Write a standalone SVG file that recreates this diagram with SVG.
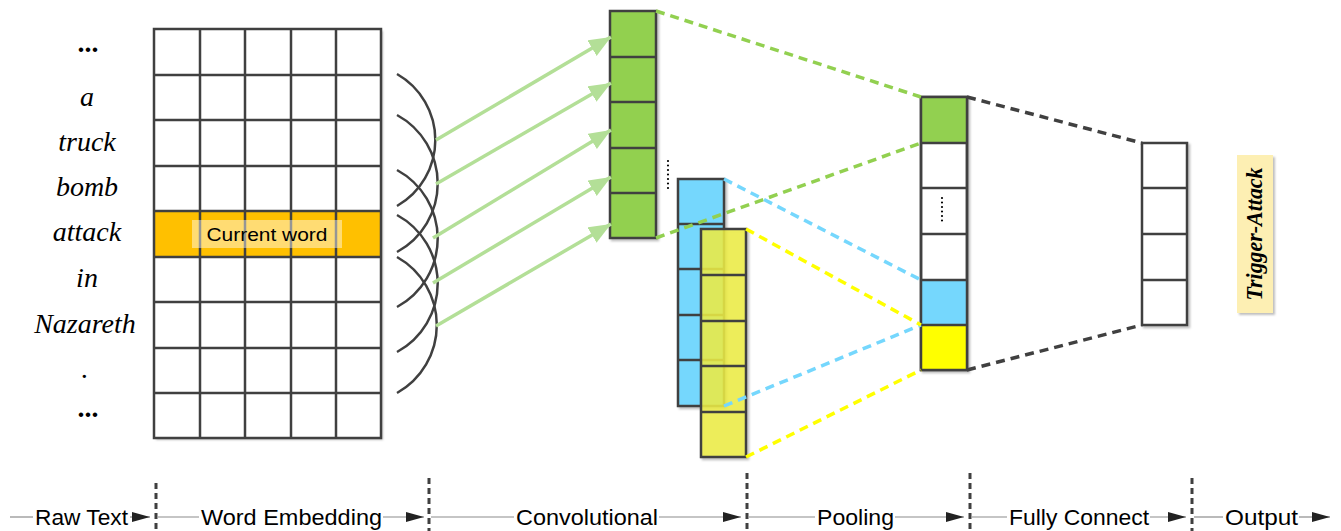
<svg xmlns="http://www.w3.org/2000/svg" width="1341" height="531" viewBox="0 0 1341 531">
<style>
.word{font-family:"Liberation Serif","Times New Roman",serif;font-style:italic;font-size:28px;fill:#000;text-anchor:middle}
.ell{font-weight:bold}
.cell{stroke:#404040;stroke-width:2.5}
.axis{font-family:"Liberation Sans",Arial,sans-serif;font-size:22px;fill:#000}
.arc{fill:none;stroke:#404040;stroke-width:2.5}
.garrow{stroke:#b3df97;stroke-width:3.5;fill:none}
.dash{fill:none;stroke-width:3.5;stroke-dasharray:9 6}
.vdash{stroke:#404040;stroke-width:3;stroke-dasharray:6 4}
.hline{stroke:#8c8c8c;stroke-width:1.2}
.dots{stroke:#000;stroke-width:2.2;stroke-linecap:round;stroke-dasharray:0 4.5}
</style>
<defs>
<filter id="sh" x="-10%" y="-10%" width="130%" height="130%">
<feDropShadow dx="2" dy="2" stdDeviation="1.2" flood-color="#000" flood-opacity="0.25"/>
</filter>
<marker id="ga" markerUnits="userSpaceOnUse" markerWidth="24" markerHeight="20" refX="22" refY="9" orient="auto">
<path d="M0,0 L22,9 L0,18 Z" fill="#b3df97"/>
</marker>
<marker id="ba" markerUnits="userSpaceOnUse" markerWidth="20" markerHeight="10" refX="18" refY="5" orient="auto">
<path d="M0,0 L18,5 L0,10 Z" fill="#222"/>
</marker>
</defs>
<rect width="1341" height="531" fill="#fff"/>

<g id="raw-text">
<text class="word ell" x="89" y="52">...</text>
<text class="word" x="87" y="106">a</text>
<text class="word" x="87" y="151">truck</text>
<text class="word" x="87" y="196">bomb</text>
<text class="word" x="87" y="241">attack</text>
<text class="word" x="87" y="287">in</text>
<text class="word" x="85" y="333">Nazareth</text>
<text class="word" x="85" y="378">.</text>
<text class="word ell" x="89" y="417">...</text>
</g>

<g id="embedding">
<rect x="154" y="29" width="227" height="409" fill="#fff" filter="url(#sh)"/>
<rect x="154" y="211" width="227" height="46" fill="#ffc000"/>
<g class="cell" fill="none">
<rect x="154" y="29" width="227" height="409"/>
<path d="M200,29V438M245,29V438M291,29V438M336,29V438"/>
<path d="M154,75H381M154,120H381M154,166H381M154,211H381M154,257H381M154,302H381M154,348H381M154,393H381"/>
</g>
<rect x="192" y="220" width="150" height="28" fill="#fff" fill-opacity="0.45"/>
<text x="267" y="241" font-family="Liberation Sans, Arial, sans-serif" font-size="19" text-anchor="middle" textLength="121" lengthAdjust="spacingAndGlyphs">Current word</text>
</g>

<g id="conv-green">
<rect x="610" y="11" width="46" height="227" fill="#92d050" class="cell" filter="url(#sh)"/>
<path class="cell" d="M610,57H656M610,102H656M610,148H656M610,193H656"/>
</g>
<g id="conv-dots">
<line class="dots" x1="668" y1="161" x2="668" y2="189"/>
</g>
<g id="conv-blue">
<rect x="678" y="179" width="46" height="227" fill="#75d7fd" class="cell" filter="url(#sh)"/>
<path class="cell" d="M678,224H724M678,269H724M678,315H724M678,360H724"/>
</g>
<g id="conv-yellow">
<rect x="701" y="229" width="45" height="228" fill="#eeee44" fill-opacity="0.85" class="cell" filter="url(#sh)"/>
<path class="cell" d="M701,275H746M701,321H746M701,366H746M701,412H746"/>
</g>

<g id="pooling">
<rect x="921" y="97" width="46" height="273" fill="#fff" class="cell" filter="url(#sh)"/>
<rect x="921" y="97" width="46" height="46" fill="#92d050"/>
<rect x="921" y="280" width="46" height="45" fill="#75d7fd"/>
<rect x="921" y="325" width="46" height="45" fill="#ffff00"/>
<rect x="921" y="97" width="46" height="273" fill="none" class="cell"/>
<path class="cell" d="M921,143H967M921,188H967M921,234H967M921,280H967M921,325H967"/>
<line class="dots" x1="942" y1="198" x2="942" y2="225"/>
</g>

<g id="fully-connect">
<rect x="1142" y="143" width="45" height="182" fill="#fff" class="cell" filter="url(#sh)"/>
<path class="cell" d="M1142,188H1187M1142,234H1187M1142,280H1187"/>
</g>

<g id="output">
<rect x="1237" y="155" width="36" height="158" fill="#fdefb3" filter="url(#sh)"/>
<text transform="translate(1262,234) rotate(-90)" font-family="Liberation Serif, Times New Roman, serif" font-style="italic" font-weight="bold" font-size="23" text-anchor="middle" textLength="133" lengthAdjust="spacingAndGlyphs">Trigger-Attack</text>
</g>

<g id="connectors">
<path class="arc" d="M397,74 A76 76 0 0 1 397,206"/>
<path class="arc" d="M397,115 A78 78 0 0 1 397,252"/>
<path class="arc" d="M397,170 A78 78 0 0 1 397,307"/>
<path class="arc" d="M397,215 A78 78 0 0 1 397,352"/>
<path class="arc" d="M397,257 A78 78 0 0 1 397,393"/>

<line class="garrow" x1="436" y1="140" x2="611" y2="37" marker-end="url(#ga)"/>
<line class="garrow" x1="436" y1="184" x2="611" y2="83" marker-end="url(#ga)"/>
<line class="garrow" x1="433" y1="238" x2="611" y2="130" marker-end="url(#ga)"/>
<line class="garrow" x1="433" y1="283" x2="611" y2="177" marker-end="url(#ga)"/>
<line class="garrow" x1="436" y1="326" x2="611" y2="224" marker-end="url(#ga)"/>

<line class="dash" stroke="#92d050" x1="656" y1="11" x2="921" y2="97"/>
<line class="dash" stroke="#92d050" x1="656" y1="238" x2="921" y2="143"/>
<line class="dash" stroke="#75d7fd" x1="724" y1="179" x2="921" y2="280"/>
<line class="dash" stroke="#75d7fd" x1="724" y1="406" x2="921" y2="325"/>
<line class="dash" stroke="#ffff00" x1="746" y1="229" x2="921" y2="325"/>
<line class="dash" stroke="#ffff00" x1="746" y1="457" x2="921" y2="370"/>
<line class="dash" stroke="#404040" x1="967" y1="97" x2="1142" y2="143"/>
<line class="dash" stroke="#404040" x1="967" y1="370" x2="1142" y2="325"/>

<line class="vdash" x1="156" y1="483" x2="156" y2="531"/>
<line class="vdash" x1="429" y1="478" x2="429" y2="531"/>
<line class="vdash" x1="747" y1="473" x2="747" y2="531"/>
<line class="vdash" x1="970" y1="473" x2="970" y2="531"/>
<line class="vdash" x1="1192" y1="478" x2="1192" y2="531"/>

<line class="hline" x1="10" y1="517" x2="33" y2="517"/>
<line class="hline" x1="130" y1="517" x2="150" y2="517" marker-end="url(#ba)"/>
<line class="hline" x1="158" y1="517" x2="199" y2="517"/>
<line class="hline" x1="383" y1="517" x2="424" y2="517" marker-end="url(#ba)"/>
<line class="hline" x1="431" y1="517" x2="514" y2="517"/>
<line class="hline" x1="659" y1="517" x2="741" y2="517" marker-end="url(#ba)"/>
<line class="hline" x1="749" y1="517" x2="815" y2="517"/>
<line class="hline" x1="895" y1="517" x2="964" y2="517" marker-end="url(#ba)"/>
<line class="hline" x1="972" y1="517" x2="1007" y2="517"/>
<line class="hline" x1="1150" y1="517" x2="1186" y2="517" marker-end="url(#ba)"/>
<line class="hline" x1="1194" y1="517" x2="1223" y2="517"/>
<line class="hline" x1="1299" y1="517" x2="1330" y2="517" marker-end="url(#ba)"/>

<text class="axis" x="35" y="525" textLength="93" lengthAdjust="spacingAndGlyphs">Raw Text</text>
<text class="axis" x="201" y="525" textLength="181" lengthAdjust="spacingAndGlyphs">Word Embedding</text>
<text class="axis" x="516" y="525" textLength="142" lengthAdjust="spacingAndGlyphs">Convolutional</text>
<text class="axis" x="817" y="525" textLength="77" lengthAdjust="spacingAndGlyphs">Pooling</text>
<text class="axis" x="1009" y="525" textLength="140" lengthAdjust="spacingAndGlyphs">Fully Connect</text>
<text class="axis" x="1225" y="525" textLength="73" lengthAdjust="spacingAndGlyphs">Output</text>
</g>
</svg>
